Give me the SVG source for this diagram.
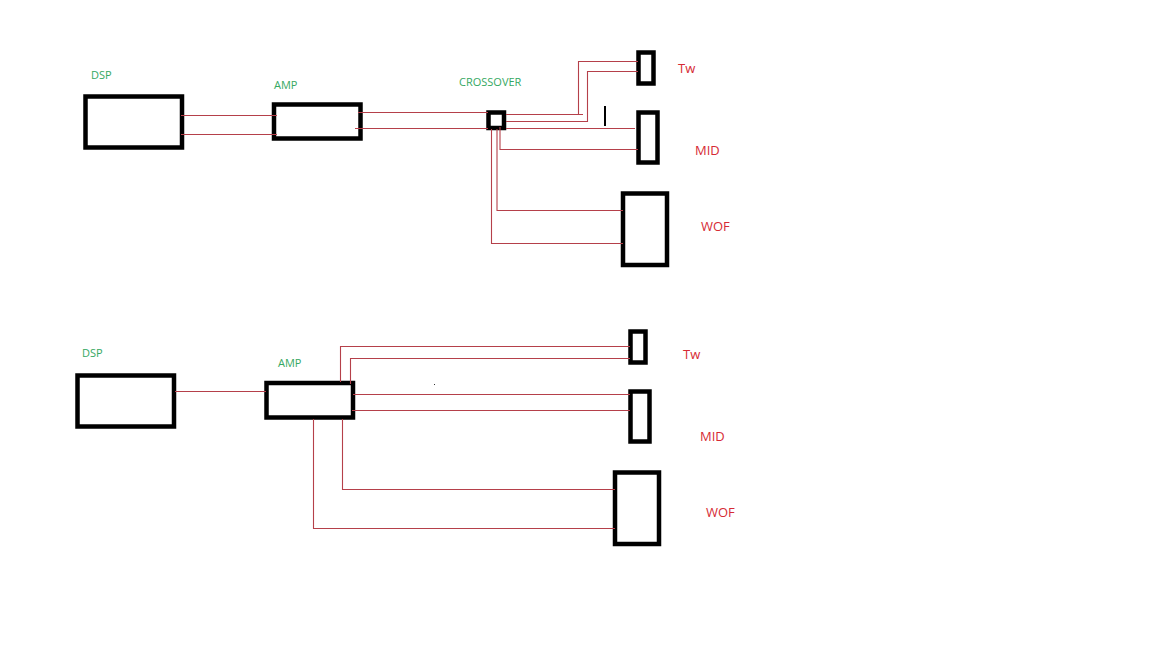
<svg xmlns="http://www.w3.org/2000/svg" width="1152" height="648" viewBox="0 0 1152 648">
<style>
.box{fill:#fff;stroke:#000;stroke-width:4.5}
.w{fill:none;stroke:#b5404a;stroke-width:1.1}
.g{fill:#35a862;font-family:"Open Sans","Liberation Sans",sans-serif;font-size:11px}
.r{fill:#d62a34;font-family:"Open Sans","Liberation Sans",sans-serif;font-size:13px}
</style>
<rect width="1152" height="648" fill="#fff"/>
<g id="nodes">
<g id="dsp1"><rect class="box" x="85.500" y="96.500" width="96.500" height="51"/><text class="g" x="91" y="79">DSP</text></g>
<g id="amp1"><rect class="box" x="274" y="104.500" width="86.500" height="34"/><text class="g" x="274" y="89">AMP</text></g>
<g id="crossover"><rect class="box" x="488.500" y="112.500" width="15.500" height="15.500"/><text class="g" x="459" y="86">CROSSOVER</text></g>
<g id="tw1"><rect class="box" x="638.500" y="52.500" width="15" height="31"/><text class="r" x="678" y="73">Tw</text></g>
<g id="mid1"><rect class="box" x="638.500" y="112.500" width="19" height="50"/><text class="r" x="695" y="155">MID</text></g>
<g id="wof1"><rect class="box" x="623" y="193.500" width="44" height="71.500"/><text class="r" x="701" y="231">WOF</text></g>
<g id="dsp2"><rect class="box" x="77.500" y="375.500" width="96.500" height="51"/><text class="g" x="82" y="357">DSP</text></g>
<g id="amp2"><rect class="box" x="266.500" y="383" width="86.500" height="34.500"/><text class="g" x="278" y="367">AMP</text></g>
<g id="tw2"><rect class="box" x="630.500" y="331.500" width="15" height="31"/><text class="r" x="683" y="359">Tw</text></g>
<g id="mid2"><rect class="box" x="630.500" y="391.500" width="19" height="50"/><text class="r" x="700" y="441">MID</text></g>
<g id="wof2"><rect class="box" x="615" y="472.500" width="44" height="71.500"/><text class="r" x="706" y="517">WOF</text></g>
</g>
<g id="connectors">
<path class="w" d="M181 115.500H277M181 134.500H277"/>
<path class="w" d="M358 112.500H488M355 128.500H488"/>
<path class="w" d="M506 114.500H583M578.500 114.500V61.500H638M506 121.500H587.500V71.500H638"/>
<path class="w" d="M506 128.500H635M500 127V149.500H638"/>
<path class="w" d="M497 129V210.500H623M491.500 129V243.500H623"/>
<path class="w" d="M175 391.500H266"/>
<path class="w" d="M340.500 382V346.500H630M350.500 384V358.500H630"/>
<path class="w" d="M353 394.500H630M352 410.500H630"/>
<path class="w" d="M342.500 419V489.500H615M313.500 419V528.500H615"/>
</g>
<path d="M605 106V126" stroke="#000" stroke-width="2"/>
<rect x="434" y="384" width="1" height="1" fill="#333"/>
</svg>
